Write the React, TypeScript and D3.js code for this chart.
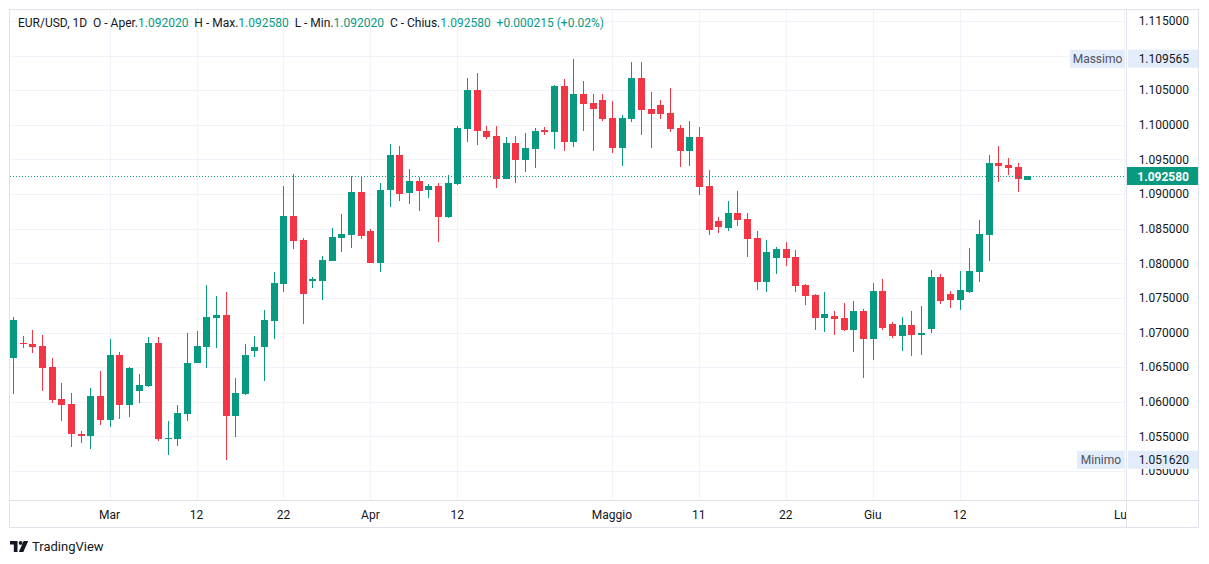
import React from "react";
import * as d3 from "d3";

// ---- data (EUR/USD, daily) ----
const dates = [
  "2023-02-17","2023-02-19","2023-02-20","2023-02-21","2023-02-22","2023-02-23","2023-02-24","2023-02-26","2023-02-27","2023-02-28",
  "2023-03-01","2023-03-02","2023-03-03","2023-03-05","2023-03-06","2023-03-07","2023-03-08","2023-03-09","2023-03-10","2023-03-12",
  "2023-03-13","2023-03-14","2023-03-15","2023-03-16","2023-03-17","2023-03-19","2023-03-20","2023-03-21","2023-03-22","2023-03-23",
  "2023-03-24","2023-03-26","2023-03-27","2023-03-28","2023-03-29","2023-03-30","2023-03-31","2023-04-02","2023-04-03","2023-04-04",
  "2023-04-05","2023-04-06","2023-04-07","2023-04-09","2023-04-10","2023-04-11","2023-04-12","2023-04-13","2023-04-14","2023-04-16",
  "2023-04-17","2023-04-18","2023-04-19","2023-04-20","2023-04-21","2023-04-23","2023-04-24","2023-04-25","2023-04-26","2023-04-27",
  "2023-04-28","2023-04-30","2023-05-01","2023-05-02","2023-05-03","2023-05-04","2023-05-05","2023-05-07","2023-05-08","2023-05-09",
  "2023-05-10","2023-05-11","2023-05-12","2023-05-14","2023-05-15","2023-05-16","2023-05-17","2023-05-18","2023-05-19","2023-05-21",
  "2023-05-22","2023-05-23","2023-05-24","2023-05-25","2023-05-26","2023-05-28","2023-05-29","2023-05-30","2023-05-31","2023-06-01",
  "2023-06-02","2023-06-04","2023-06-05","2023-06-06","2023-06-07","2023-06-08","2023-06-09","2023-06-11","2023-06-12","2023-06-13",
  "2023-06-14","2023-06-15","2023-06-16","2023-06-18","2023-06-19","2023-06-20",
];

const opens = [
  1.06638,1.06855,1.06836,1.06807,1.06503,1.06042,1.05969,1.05536,1.05512,1.06085,
  1.05743,1.06677,1.05955,1.06162,1.06225,1.06850,1.05468,1.05468,1.05830,1.06565,
  1.06797,1.07215,1.07254,1.05796,1.06118,1.06735,1.06792,1.07168,1.07703,1.08684,
  1.08338,1.07750,1.07750,1.08039,1.08371,1.08414,1.09030,1.08467,1.08010,1.09059,
  1.09565,1.09010,1.09190,1.09060,1.09120,1.08670,1.09150,1.09945,1.10504,1.09910,
  1.09839,1.09223,1.09738,1.09497,1.09656,1.09930,1.09900,1.10561,1.09757,1.10446,
  1.10320,1.10359,1.10100,1.09670,1.10089,1.10677,1.10230,1.10290,1.10172,1.09955,
  1.09627,1.09825,1.09117,1.08610,1.08515,1.08730,1.08640,1.08367,1.07736,1.08078,
  1.08208,1.08092,1.07688,1.07544,1.07216,1.07240,1.07211,1.07042,1.07312,1.06912,
  1.07601,1.07124,1.06956,1.07110,1.06970,1.07057,1.07803,1.07558,1.07475,1.07587,
  1.07880,1.08414,1.09449,1.09420,1.09392,1.09202,
];
const highs = [
  1.07221,1.06951,1.07040,1.06966,1.06634,1.06273,1.06128,1.05580,1.06200,1.06450,
  1.06908,1.06720,1.06500,1.06403,1.06937,1.06937,1.05728,1.05955,1.06994,1.07024,
  1.07688,1.07529,1.07587,1.06345,1.06836,1.06951,1.07327,1.07876,1.09117,1.09291,
  1.08362,1.07800,1.08100,1.08515,1.08717,1.09262,1.09250,1.08497,1.09160,1.09728,
  1.09695,1.09360,1.09250,1.09150,1.09160,1.09280,1.09990,1.10677,1.10749,1.09990,
  1.09984,1.09825,1.09839,1.09883,1.09955,1.09970,1.10570,1.10662,1.109565,1.10634,
  1.10450,1.10450,1.10345,1.10142,1.10908,1.10908,1.10475,1.10360,1.10533,1.09998,
  1.10056,1.09969,1.09348,1.08670,1.08901,1.09040,1.08727,1.08468,1.08338,1.08237,
  1.08309,1.08193,1.07700,1.07560,1.07587,1.07317,1.07428,1.07457,1.07341,1.07717,
  1.07775,1.07158,1.07226,1.07317,1.07385,1.07904,1.07847,1.07602,1.07890,1.08222,
  1.08626,1.09565,1.09695,1.09520,1.09450,1.09258,
];
const lows = [
  1.06114,1.06783,1.06700,1.06159,1.05984,1.05728,1.05353,1.05411,1.05324,1.05666,
  1.05642,1.05757,1.05777,1.05985,1.06210,1.05440,1.05233,1.05363,1.05728,1.06560,
  1.06489,1.06778,1.05162,1.05493,1.06104,1.06648,1.06301,1.06908,1.07587,1.08208,
  1.07125,1.07640,1.07471,1.08030,1.08164,1.08226,1.08350,1.08000,1.07880,1.08818,
  1.08905,1.08850,1.08760,1.08950,1.08310,1.08660,1.09130,1.09757,1.09709,1.09800,
  1.09093,1.09220,1.09165,1.09324,1.09382,1.09860,1.09656,1.09627,1.09685,1.09916,
  1.09627,1.10060,1.09598,1.09410,1.10046,1.09858,1.09670,1.10090,1.09901,1.09396,
  1.09410,1.08992,1.08414,1.08440,1.08472,1.08540,1.08097,1.07620,1.07591,1.07847,
  1.07958,1.07591,1.07403,1.07042,1.07013,1.06971,1.07028,1.06725,1.06349,1.06609,
  1.07042,1.06927,1.06739,1.06667,1.06681,1.07000,1.07418,1.07360,1.07331,1.07570,
  1.07736,1.08039,1.09180,1.09280,1.09035,1.09202,
];
const closes = [
  1.07182,1.06832,1.06797,1.06494,1.06032,1.05960,1.05541,1.05512,1.06085,1.05743,
  1.06677,1.05955,1.06489,1.06244,1.06850,1.05468,1.05480,1.05840,1.06561,1.06807,
  1.07226,1.07254,1.05796,1.06128,1.06677,1.06792,1.07182,1.07717,1.08684,1.08328,
  1.07558,1.07770,1.08050,1.08385,1.08424,1.09030,1.08400,1.08010,1.09059,1.09565,
  1.09008,1.09190,1.09050,1.09120,1.08670,1.09160,1.09955,1.10504,1.09916,1.09830,
  1.09223,1.09738,1.09497,1.09666,1.09912,1.09900,1.10561,1.09757,1.10446,1.10306,
  1.10234,1.10090,1.09670,1.10104,1.10677,1.10219,1.10160,1.10160,1.09945,1.09627,
  1.09825,1.09107,1.08486,1.08520,1.08727,1.08630,1.08356,1.07736,1.08164,1.08208,
  1.08078,1.07678,1.07533,1.07216,1.07270,1.07201,1.07042,1.07312,1.06912,1.07601,
  1.07071,1.06956,1.07110,1.06970,1.07000,1.07803,1.07461,1.07475,1.07616,1.07890,
  1.08424,1.09449,1.09410,1.09380,1.09223,1.09258,
];

// 1.110000 is hidden behind the "Massimo" label in the reference
const priceTicks = [1.05, 1.055, 1.06, 1.065, 1.07, 1.075, 1.08, 1.085, 1.09, 1.095, 1.1, 1.105, 1.115];
const gridTicks = [1.05, 1.055, 1.06, 1.065, 1.07, 1.075, 1.08, 1.085, 1.09, 1.095, 1.1, 1.105, 1.11, 1.115];
const timeTickLabels = ["Mar", "12", "22", "Apr", "12", "Maggio", "11", "22", "Giu", "12", "Lug"];
const timeTickIndex = [10, 19, 28, 37, 46, 62, 71, 80, 89, 98, 115];

const maxPrice = 1.109565;
const minPrice = 1.05162;
const lastPrice = 1.09258;

const UP = "#089981";
const DOWN = "#F23645";
const GRID = "#F0F3FA";
const BORDER = "#E0E3EB";
const TEXT = "#131722";
const FONT = "Roboto, 'Liberation Sans', sans-serif";

export default function App() {
  const W = 1209, H = 564;
  const plotL = 10, plotR = 1126, plotT = 10, plotB = 500;
  const x = d3.scaleLinear().domain([0, dates.length - 1]).range([13, 1027.3]);
  const y = d3.scaleLinear().domain([1.05, 1.115]).range([471, 21]);
  const fmt = (v: number) => v.toFixed(6);
  const bodyW = 7;

  const candles = dates.map((d, i) => {
    const o = opens[i], c = closes[i], h = highs[i], l = lows[i];
    const up = c >= o;
    const cx = Math.round(x(i));
    const top = Math.round(y(Math.max(o, c)));
    const bot = Math.round(y(Math.min(o, c)));
    const col = up ? UP : DOWN;
    return (
      <g key={d}>
        <rect x={cx} y={Math.round(y(h))} width={1} height={Math.max(1, Math.round(y(l)) - Math.round(y(h)))} fill={col} />
        <rect x={cx - 3} y={top} width={bodyW} height={Math.max(1, bot - top)} fill={col} />
      </g>
    );
  });

  const yLast = Math.round(y(lastPrice)) + 0.5;
  const yMax = y(maxPrice);
  const yMin = y(minPrice);
  const n = opens.length - 1;

  return (
    <div style={{ position: "absolute", left: 0, top: 0, width: W, height: H, background: "#fff" }}>
      <svg width={W} height={H} style={{ display: "block", fontFamily: FONT }}>
        <defs>
          <clipPath id="plot">
            <rect x={plotL} y={plotT} width={plotR - plotL} height={plotB - plotT} />
          </clipPath>
          <clipPath id="taxis">
            <rect x={plotL} y={plotB} width={plotR - plotL} height={28} />
          </clipPath>
          <clipPath id="below-min">
            <rect x={1128} y={yMin + 9} width={70} height={30} />
          </clipPath>
        </defs>
        <rect x={0} y={0} width={W} height={H} fill="#fff" />
        {/* grid */}
        <g clipPath="url(#plot)">
          {gridTicks.map((p) => (
            <line key={"h" + p} x1={plotL} x2={plotR} y1={Math.round(y(p)) + 0.5} y2={Math.round(y(p)) + 0.5} stroke={GRID} />
          ))}
          {timeTickIndex.map((t, i) => (
            <line key={"v" + i} x1={Math.round(x(t)) + 0.5} x2={Math.round(x(t)) + 0.5} y1={plotT} y2={plotB} stroke={GRID} />
          ))}
        </g>
        {/* candles */}
        <g clipPath="url(#plot)">{candles}</g>
        {/* last price line */}
        <line x1={plotL} x2={plotR} y1={yLast} y2={yLast} stroke={UP} strokeDasharray="1 2" />
        {/* legend */}
        <text x={18} y={27} fontSize={12} fill={TEXT} xmlSpace="preserve" style={{ whiteSpace: "pre" }}>
          <tspan>{"EUR/USD, 1D  "}</tspan>
          <tspan>{"O - Aper."}</tspan><tspan fill={UP}>{fmt(opens[n])}</tspan>
          <tspan>{"  H - Max."}</tspan><tspan fill={UP}>{fmt(highs[n])}</tspan>
          <tspan>{"  L - Min."}</tspan><tspan fill={UP}>{fmt(lows[n])}</tspan>
          <tspan>{"  C - Chius."}</tspan><tspan fill={UP}>{fmt(closes[n])}</tspan>
          <tspan fill={UP}>{"  +0.000215 (+0.02%)"}</tspan>
        </text>
        {/* price axis */}
        {priceTicks.map((p) =>
          p === 1.05 ? (
            <g key={"pt" + p} clipPath="url(#below-min)">
              <text x={1189} y={y(p)} dy="0.35em" textAnchor="end" fontSize={12} fill={TEXT}>{fmt(p)}</text>
            </g>
          ) : (
            <text key={"pt" + p} x={1189} y={y(p)} dy="0.35em" textAnchor="end" fontSize={12} fill={TEXT}>
              {fmt(p)}
            </text>
          )
        )}
        {/* max / min labels */}
        <rect x={1070} y={yMax - 9} width={55} height={18} fill="#E3ECFA" rx={1} />
        <text x={1097.5} y={yMax} dy="0.35em" textAnchor="middle" fontSize={12} fill="#50535E">Massimo</text>
        <rect x={1128} y={yMax - 9} width={70} height={18} fill="#E3ECFA" />
        <text x={1189} y={yMax} dy="0.35em" textAnchor="end" fontSize={12} fill={TEXT}>{fmt(maxPrice)}</text>
        <rect x={1077} y={yMin - 9} width={48} height={18} fill="#E3ECFA" rx={1} />
        <text x={1101} y={yMin} dy="0.35em" textAnchor="middle" fontSize={12} fill="#50535E">Minimo</text>
        <rect x={1128} y={yMin - 9} width={70} height={18} fill="#E3ECFA" />
        <text x={1189} y={yMin} dy="0.35em" textAnchor="end" fontSize={12} fill={TEXT}>{fmt(minPrice)}</text>
        {/* last price label */}
        <rect x={1127} y={yLast - 9.5} width={71} height={18} fill={UP} />
        <text x={1189} y={yLast} dy="0.35em" textAnchor="end" fontSize={12} fontWeight={700} fill="#fff">{fmt(lastPrice)}</text>
        {/* time axis */}
        <g clipPath="url(#taxis)">
          {timeTickIndex.map((t, i) => (
            <text key={"tt" + i} x={x(t)} y={515} dy="0.35em" textAnchor="middle" fontSize={12} fill={TEXT}>
              {timeTickLabels[i]}
            </text>
          ))}
        </g>
        {/* borders */}
        <line x1={9.5} x2={1198.5} y1={500.5} y2={500.5} stroke={BORDER} />
        <line x1={1126.5} x2={1126.5} y1={9.5} y2={527.5} stroke={BORDER} />
        <rect x={9.5} y={9.5} width={1189} height={518} fill="none" stroke={BORDER} />
        {/* logo */}
        <g transform="translate(10,541)" fill={TEXT}>
          <path d="M0 0 H7.5 V11 H3.8 V3.6 H0 Z" />
          <circle cx={10.6} cy={1.9} r={1.9} />
          <path d="M13.6 0 H18.2 L13.3 11 H8.8 Z" />
        </g>
        <text x={32} y={551} fontSize={13} fill={TEXT}>TradingView</text>
      </svg>
    </div>
  );
}
